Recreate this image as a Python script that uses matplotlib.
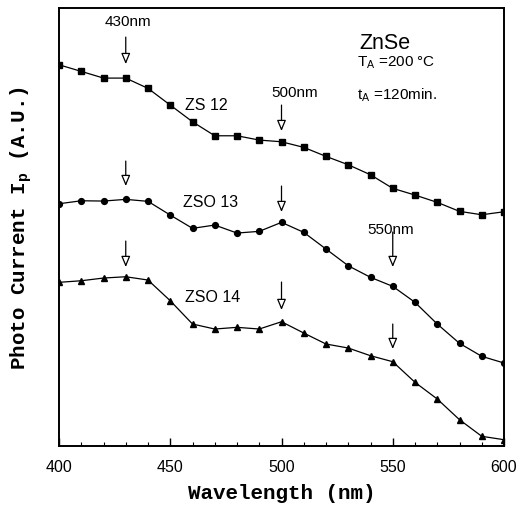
import matplotlib
matplotlib.use("Agg")
import matplotlib.pyplot as plt
from matplotlib.ticker import MultipleLocator, NullLocator

wavelength = [400, 410, 420, 430, 440, 450, 460, 470, 480, 490, 500,
              510, 520, 530, 540, 550, 560, 570, 580, 590, 600]
zs12 = [381.3, 374.7, 368, 368, 357.7, 341, 324.3, 310.3, 310.3, 306, 304.3,
        298.7, 289.7, 281.3, 271.3, 257.7, 251, 243.7, 234.7, 231.3, 234.3]
zso13 = [242.3, 245.3, 245, 246.7, 244.7, 231, 217.7, 221, 213, 214.7, 223.7,
         213.7, 197, 180.3, 168.7, 159.7, 143.7, 122, 102.7, 89.7, 83]
zso14 = [163.7, 165.3, 168, 169.3, 166, 145.3, 122, 117, 118.7, 117, 124.3,
         113, 102, 98, 90.3, 84.3, 63.7, 47, 26.3, 9.7, 6.3]

series_labels = ["ZS 12", "ZSO 13", "ZSO 14"]
label_pos = [(466, 342), (468, 245), (469, 150)]

# arrows: (x, y_start, y_end)
arrows = [(430, 409, 382), (430, 285, 260), (430, 205, 179),
          (500, 341, 315), (500, 260, 234), (500, 164, 136),
          (550, 214, 179), (550, 122, 97)]
arrow_texts = [("430nm", 431, 425), ("500nm", 506, 354), ("550nm", 549, 217)]

plt.rcParams['font.family'] = ['Liberation Sans', 'DejaVu Sans']

fig = plt.figure(figsize=(5.25, 5.06), dpi=100)
ax = fig.add_axes([0.1124, 0.1166, 0.8476, 0.8654])

lw = 0.9
ax.plot(wavelength, zs12, color='black', lw=lw, marker='s', ms=3.8)
ax.plot(wavelength, zso13, color='black', lw=lw, marker='o', ms=4.2)
ax.plot(wavelength, zso14, color='black', lw=lw, marker='^', ms=4.2)

for t, (x, y) in zip(series_labels, label_pos):
    ax.text(x, y, t, fontsize=11.5, ha='center', va='center')

for x, y0, y1 in arrows:
    ax.annotate('', xy=(x, y1), xytext=(x, y0),
                arrowprops=dict(arrowstyle='-|>,head_length=0.65,head_width=0.27',
                                fc='white', ec='black', lw=0.9,
                                shrinkA=0, shrinkB=0))
for t, x, y in arrow_texts:
    ax.text(x, y, t, fontsize=11, ha='center', va='center')

ax.text(546.5, 404, 'ZnSe', fontsize=15.5, ha='center', va='center')
ax.text(0.67, 0.877, 'T$\\mathregular{_A}$ =200 \u00b0C', fontsize=11,
        ha='left', va='center', transform=ax.transAxes)
ax.text(0.67, 0.803, 't$\\mathregular{_A}$ =120min.', fontsize=11,
        ha='left', va='center', transform=ax.transAxes)

ax.set_xlim(400, 600)
ax.set_ylim(0, 438)
ax.xaxis.set_major_locator(MultipleLocator(50))
ax.xaxis.set_minor_locator(MultipleLocator(10))
ax.yaxis.set_major_locator(NullLocator())
ax.tick_params(axis='x', which='major', direction='in', length=6, width=1,
               labelsize=11.5, pad=9)
ax.tick_params(axis='x', which='minor', direction='in', length=3, width=0.8)
for s in ax.spines.values():
    s.set_linewidth(1.4)

mono = ['Liberation Mono', 'DejaVu Sans Mono']
ax.set_xlabel('Wavelength (nm)', fontsize=15, fontweight='bold', family=mono, labelpad=7)
ax.set_ylabel('Photo Current I$\\mathregular{_p}$ (A.U.)', fontsize=15,
              fontweight='bold', family=mono, labelpad=18)

fig.savefig('out.png', dpi=100)
